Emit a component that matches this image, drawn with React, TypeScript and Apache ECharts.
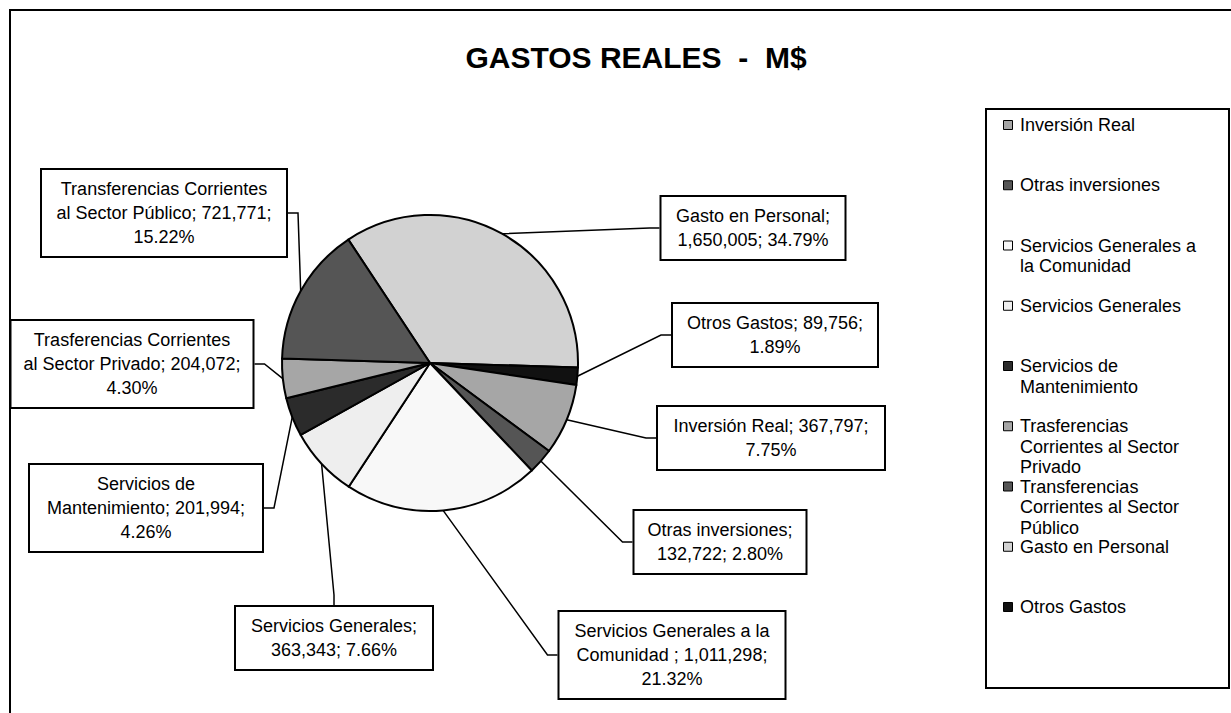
import React, { useEffect, useRef } from "react";
import * as echarts from "echarts";

// ---- Data (pie order, clockwise from the start angle) ----
const categories = [
  "Gasto en Personal",
  "Otros Gastos",
  "Inversión Real",
  "Otras inversiones",
  "Servicios Generales a la Comunidad ",
  "Servicios Generales",
  "Servicios de Mantenimiento",
  "Trasferencias Corrientes al Sector Privado",
  "Transferencias Corrientes al Sector Público",
];
const values = [1650005, 89756, 367797, 132722, 1011298, 363343, 201994, 204072, 721771];
const sliceColors = ["#d2d2d2", "#111111", "#a6a6a6", "#555555", "#f8f8f8", "#eeeeee", "#2b2b2b", "#a6a6a6", "#555555"];
// words per line of each data label
const labelWordsPerLine = [[3, 2], [3, 1], [3, 1], [2, 2], [4, 3, 1], [2, 2], [2, 2, 1], [2, 4, 1], [2, 4, 1]];

// ---- Legend (its own order and wrapping) ----
const legendOrder = [2, 3, 4, 5, 6, 7, 8, 0, 1];
const legendLabels = [
  "Inversión Real",
  "Otras inversiones",
  "Servicios Generales a\nla Comunidad",
  "Servicios Generales",
  "Servicios de\nMantenimiento",
  "Trasferencias\nCorrientes al Sector\nPrivado",
  "Transferencias\nCorrientes al Sector\nPúblico",
  "Gasto en Personal",
  "Otros Gastos",
];

const TITLE = "GASTOS REALES  -  M$";

// ---- Layout (label box centres / widths, pie order) ----
const labelBoxCenters = [
  [753, 228], [775, 335], [771, 438], [720, 542], [672, 655],
  [334, 638], [146, 508], [132, 364], [164, 213],
];
const labelBoxWidths = [183, 204, 226, 171, 225, 196, 232, 241, 244];

const FONT = '"Liberation Sans", Arial, Helvetica, sans-serif';

function fmtThousands(v: number): string {
  return String(v).replace(/\B(?=(\d{3})+(?!\d))/g, ",");
}

export default function App() {
  const ref = useRef<HTMLDivElement>(null);

  useEffect(() => {
    if (!ref.current) return;
    const chart = echarts.init(ref.current, undefined, { renderer: "svg" });

    const total = values.reduce((a, b) => a + b, 0);

    const data = categories.map((name, i) => ({
      name,
      value: values[i],
      itemStyle: { color: sliceColors[i] },
      label: { width: labelBoxWidths[i] - 12 },
    }));

    const legendTop = 125;
    const legendStep = 60.25;
    const legendGraphics: any[] = [];
    legendOrder.forEach((idx, k) => {
      const y = legendTop + k * legendStep;
      legendGraphics.push({
        type: "rect",
        shape: { x: 1003.5, y: y - 4.5, width: 9, height: 9 },
        style: { fill: sliceColors[idx], stroke: "#000", lineWidth: 1 },
        silent: true,
      });
      legendGraphics.push({
        type: "text",
        x: 1020,
        y: y - 10.25,
        style: {
          text: legendLabels[k],
          fill: "#000",
          font: `18px ${FONT}`,
          lineHeight: 20.5,
          textAlign: "left",
          textVerticalAlign: "top",
        },
        silent: true,
      });
    });

    const option: any = {
      animation: false,
      backgroundColor: "#ffffff",
      graphic: [
        {
          type: "rect",
          shape: { x: 10, y: 10, width: 1240, height: 720 },
          style: { fill: "none", stroke: "#000", lineWidth: 2 },
          silent: true,
        },
        {
          type: "text",
          x: 636,
          y: 57,
          style: {
            text: TITLE,
            fill: "#000",
            font: `bold 30px ${FONT}`,
            textAlign: "center",
            textVerticalAlign: "middle",
          },
          silent: true,
        },
        {
          type: "rect",
          shape: { x: 986, y: 109, width: 243, height: 579 },
          style: { fill: "#fff", stroke: "#000", lineWidth: 2 },
          silent: true,
        },
        ...legendGraphics,
      ],
      series: [
        {
          type: "pie",
          left: 0,
          top: 0,
          width: 1231,
          height: 713,
          center: [430, 363],
          radius: 148,
          startAngle: 123.5,
          clockwise: true,
          silent: true,
          emphasis: { disabled: true },
          itemStyle: { borderColor: "#000", borderWidth: 2 },
          data,
          label: {
            show: true,
            position: "outside",
            color: "#000",
            fontFamily: FONT,
            fontSize: 18,
            lineHeight: 24,
            align: "center",
            overflow: "none",
            backgroundColor: "#fff",
            borderColor: "#000",
            borderWidth: 2,
            padding: [7, 6],
            formatter: (p: any) => {
              const pct = ((p.value / total) * 100).toFixed(2);
              const s = `${p.name}; ${fmtThousands(p.value)}; ${pct}%`;
              const toks = s.split(" ");
              const counts = labelWordsPerLine[p.dataIndex];
              const lines: string[] = [];
              let pos = 0;
              counts.forEach((c, li) => {
                const n = li === counts.length - 1 ? toks.length - pos : c;
                lines.push(toks.slice(pos, pos + n).join(" "));
                pos += n;
              });
              return lines.join("\n");
            },
          },
          labelLine: {
            show: true,
            length: 10,
            length2: 10,
            smooth: false,
            lineStyle: { color: "#000", width: 1.5 },
          },
          labelLayout: (params: any) => {
            const c = labelBoxCenters[params.dataIndex];
            return { x: c[0], y: c[1], align: "center", verticalAlign: "middle" };
          },
        },
      ],
    };

    chart.setOption(option);
    return () => chart.dispose();
  }, []);

  return (
    <div
      ref={ref}
      style={{ position: "absolute", left: 0, top: 0, width: 1231, height: 713, background: "#fff" }}
    />
  );
}
